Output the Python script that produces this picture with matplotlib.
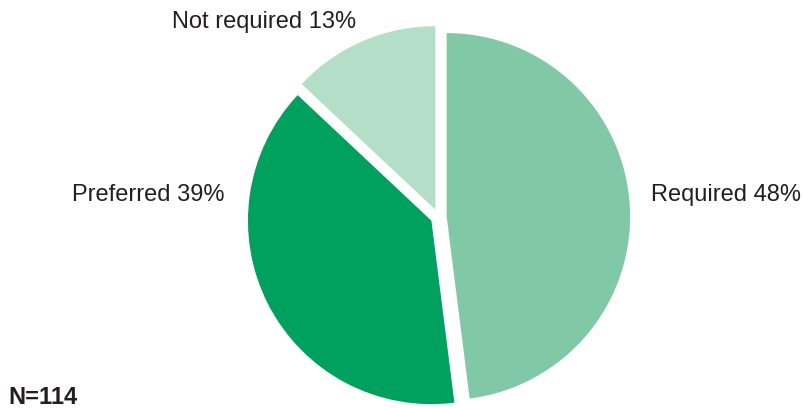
import matplotlib.pyplot as plt

labels = ['Required 48%', 'Preferred 39%', 'Not required 13%']
shares = [48, 39, 13]
colors = ['#80c8a6', '#00a05f', '#b3dec8']
note = 'N=114'

plt.rcParams['font.family'] = ['Liberation Sans', 'DejaVu Sans']

fig = plt.figure(figsize=(8.04, 4.08), dpi=100)
ax = fig.add_axes([0, 0, 1, 1])
ax.pie(shares, colors=colors, startangle=90, counterclock=False,
       explode=[0.044] * 3, radius=1, wedgeprops=dict(linewidth=0))
ax.set_aspect('equal')
ax.set_xlim(-2.391, 1.992)
ax.set_ylim(-1.041, 1.183)
ax.axis('off')

txt = dict(fontsize=17, color='#231f20', va='center')
ax.text(1.16, 0.12, labels[0], ha='left', **txt)
ax.text(-1.165, 0.12, labels[1], ha='right', **txt)
ax.text(-0.95, 1.065, labels[2], ha='center', **txt)
ax.text(-2.345, -0.985, note, ha='left', va='center', fontsize=17,
        fontweight='bold', color='#231f20')

fig.savefig('out.png', dpi=100)
